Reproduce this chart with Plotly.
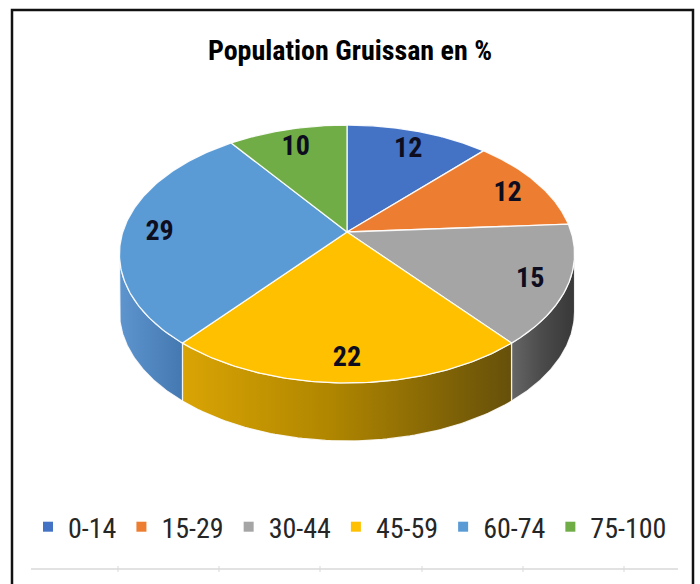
import numpy as np
import plotly.graph_objects as go

# ---------------- data ----------------
categories = ["0-14", "15-29", "30-44", "45-59", "60-74", "75-100"]
values = [12, 12, 15, 22, 29, 10]
colors = ["#4472C4", "#ED7D31", "#A5A5A5", "#FFC000", "#5B9BD5", "#70AD47"]
side_colors = [
    [[0, "#3f68b0"], [1, "#2f5596"]],
    [[0, "#d56f2a"], [1, "#a85420"]],
    [[0, "#666666"], [0.5, "#4a4a4a"], [1, "#383838"]],
    [[0, "#d9a404"], [0.45, "#b08600"], [1, "#66500a"]],
    [[0, "#5e95cf"], [1, "#4478b0"]],
    [[0, "#65a03e"], [1, "#4f8030"]],
]
title_text = "Population Gruissan en %"

FONT = "Liberation Sans Narrow, Arial Narrow, Roboto Condensed, Roboto, sans-serif"

# -------------- perspective pie projection --------------
CX, CY = 347.0, 232.0      # apex of the pie on the page (px)
A, B, K = 224.2, 125.2, 0.1706
DEPTH = 58.0
LABEL_R = 0.84
LABEL_DY = 4.0


def proj(theta_deg, r=1.0):
    t = np.radians(theta_deg)
    u = r * np.sin(t)
    v = r * np.cos(t)
    d = 1 + K * v
    return CX + A * u / d, CY - B * v / d


total = float(sum(values))
edges = np.concatenate([[0.0], np.cumsum(values)]) / total * 360.0
sil = np.degrees(np.arccos(-K))          # silhouette angles where side becomes visible
vis_lo, vis_hi = sil, 360.0 - sil

fig = go.Figure()

# side walls
for i, cat in enumerate(categories):
    lo = max(edges[i], vis_lo)
    hi = min(edges[i + 1], vis_hi)
    if lo >= hi:
        continue
    arc = np.linspace(lo, hi, 80)
    x, y = proj(arc)
    xs = np.concatenate([x, x[::-1], x[:1]])
    ys = np.concatenate([y, y[::-1] + DEPTH, y[:1]])
    fig.add_trace(go.Scatter(
        x=xs, y=ys, mode="lines", fill="toself",
        fillgradient=dict(type="horizontal", colorscale=side_colors[i]),
        line=dict(color="rgba(255,255,255,0.85)", width=1.2),
        hoverinfo="skip", showlegend=False, legendgroup=cat,
    ))

# top faces
for i, cat in enumerate(categories):
    arc = np.linspace(edges[i], edges[i + 1], 120)
    x, y = proj(arc)
    xs = np.concatenate([[CX], x, [CX]])
    ys = np.concatenate([[CY], y, [CY]])
    fig.add_trace(go.Scatter(
        x=xs, y=ys, mode="lines", fill="toself", fillcolor=colors[i],
        line=dict(color="rgba(255,255,255,0.9)", width=1.3),
        hoverinfo="skip", showlegend=False, legendgroup=cat,
    ))

# data labels
mids = (edges[:-1] + edges[1:]) / 2
lx, ly = proj(mids, LABEL_R)
fig.add_trace(go.Scatter(
    x=lx, y=ly + LABEL_DY, mode="text", text=[str(v) for v in values],
    textfont=dict(family=FONT, size=28, color="#0d0d1f", weight="bold"),
    hoverinfo="skip", showlegend=False,
))

# legend entries
for i, cat in enumerate(categories):
    fig.add_trace(go.Scatter(
        x=[None], y=[None], mode="markers", name=cat, legendgroup=cat,
        marker=dict(symbol="square", size=10, color=colors[i]),
    ))

W, H = 700, 584
shapes = [
    dict(type="rect", xref="x", yref="y", x0=12, x1=693, y0=10, y1=600,
         line=dict(color="#111111", width=2.5), fillcolor="rgba(0,0,0,0)", layer="above"),
    dict(type="line", xref="x", yref="y", x0=31, x1=678, y0=569, y1=569,
         line=dict(color="#d9d9d9", width=1.5)),
]
for tx in [118, 219, 320, 422, 523, 624]:
    shapes.append(dict(type="line", xref="x", yref="y", x0=tx, x1=tx, y0=566, y1=572,
                       line=dict(color="#d9d9d9", width=1)))

fig.update_layout(
    width=W, height=H,
    margin=dict(l=0, r=0, t=0, b=0),
    paper_bgcolor="white", plot_bgcolor="white",
    xaxis=dict(range=[0, W], visible=False, fixedrange=True),
    yaxis=dict(range=[H, 0], visible=False, fixedrange=True),
    title=dict(text=title_text, x=0.5, xanchor="center", y=1 - 50 / H, yanchor="middle",
               font=dict(family=FONT, size=28, color="#000000", weight="bold")),
    legend=dict(orientation="h", x=0.5, xanchor="center", y=1 - 527 / H, yanchor="middle",
                font=dict(family=FONT, size=28, color="#262626"),
                itemwidth=30,
                bgcolor="rgba(0,0,0,0)", itemclick=False, itemdoubleclick=False),
    shapes=shapes,
    showlegend=True,
)

fig.write_html("out.html", config={"displayModeBar": False, "staticPlot": True},
               post_script="document.body.style.margin='0';document.body.style.overflow='hidden';")
